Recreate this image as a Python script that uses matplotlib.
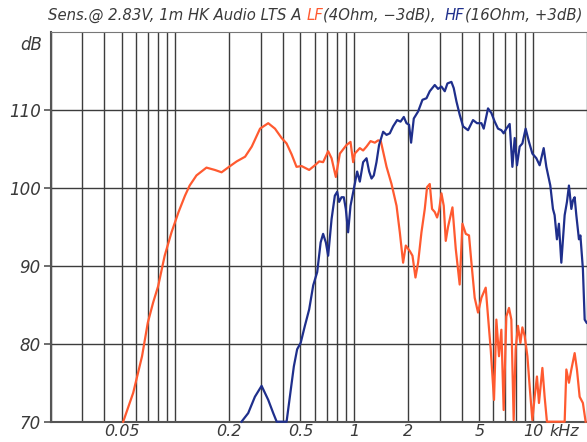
"""Sensitivity curves (LF / HF) of the HK Audio LTS A, redrawn with matplotlib."""

import matplotlib

matplotlib.use("Agg")
import matplotlib.pyplot as plt
from matplotlib.ticker import FixedLocator, LogLocator, NullFormatter

# LF way, frequency in Hz and level in dB
lf_freq_hz = [
    51, 58, 65, 70, 75, 80, 87, 95, 104, 113, 120, 131, 149, 166, 181, 202,
    220, 245, 267, 297, 330, 360, 392, 418, 446, 475, 507, 559, 602, 636, 669,
    714, 746, 788, 830, 904, 952, 985, 1006, 1073, 1120, 1170, 1232, 1302,
    1359, 1406, 1514, 1614, 1722, 1796, 1874, 1940, 2042, 2114, 2197, 2273,
    2373, 2477, 2551, 2641, 2720, 2817, 2902, 2977, 3070, 3162, 3245, 3342,
    3537, 3690, 3882, 4022, 4200, 4378, 4516, 4710, 4917, 5136, 5428, 5592,
    5788, 6040, 6226, 6440, 6640, 6840, 7080, 7325, 7550, 7780, 7980, 8220,
    8485, 8703, 8964, 9284, 9560, 9897, 10195, 10500, 10775, 11260, 11590,
    11940, 15000, 15330, 15850, 16350, 17060, 17570, 18190, 18970, 19650,
]
lf_db = [
    70.0, 73.7, 78.4, 82.7, 85.3, 87.4, 91.3, 94.3, 96.9, 99.0, 100.3, 101.6,
    102.6, 102.3, 102.0, 102.8, 103.4, 104.0, 105.3, 107.6, 108.3, 107.6,
    106.4, 105.7, 104.3, 102.7, 102.8, 102.3, 102.9, 103.4, 103.3, 104.7,
    103.8, 101.4, 104.4, 105.5, 105.9, 103.3, 104.4, 105.1, 104.8, 105.3,
    106.0, 105.8, 106.1, 106.0, 102.7, 100.5, 97.7, 94.3, 90.4, 92.6, 91.9,
    91.3, 88.5, 90.4, 94.3, 97.3, 100.1, 100.5, 97.3, 96.9, 96.2, 97.1, 99.3,
    97.7, 93.2, 95.0, 97.5, 92.2, 87.6, 95.4, 94.1, 93.9, 90.4, 85.9, 84.0,
    85.9, 87.2, 83.5, 79.3, 72.8, 83.1, 78.4, 81.8, 71.5, 83.5, 84.6, 83.1,
    70.2, 79.3, 82.3, 80.1, 82.1, 81.0, 78.4, 74.5, 70.2, 73.2, 75.8, 72.4,
    76.9, 73.2, 70.0, 70.0, 76.7, 75.0, 76.7, 78.8, 76.7, 73.2, 72.4, 70.0,
]

# HF way
hf_freq_hz = [
    234, 255, 278, 303, 330, 352, 368, 418, 436, 459, 479, 501, 529, 559, 589,
    620, 648, 669, 693, 714, 746, 778, 802, 822, 848, 873, 896, 923, 952, 994,
    1037, 1073, 1120, 1170, 1210, 1248, 1285, 1330, 1375, 1449, 1514, 1579,
    1648, 1735, 1813, 1891, 1957, 2023, 2077, 2150, 2273, 2404, 2532, 2641,
    2817, 2939, 3070, 3204, 3316, 3490, 3596, 3723, 3882, 4054, 4323, 4610,
    4853, 5136, 5291, 5592, 5841, 6095, 6360, 6640, 6840, 7080, 7390, 7653,
    7884, 8120, 8405, 8703, 9078, 9475, 9897, 10420, 10870, 11450, 11850,
    12470, 12900, 13180, 13580, 13930, 14370, 15000, 15450, 15850, 16350,
    16690, 17060, 17430, 18030, 18370, 18970, 19410, 19900,
]
hf_db = [
    70.0, 71.1, 73.2, 74.6, 72.8, 71.1, 70.0, 70.0, 73.2, 77.1, 79.3, 80.1,
    82.3, 84.4, 87.5, 89.2, 93.0, 94.1, 93.0, 91.3, 96.0, 99.0, 99.5, 98.2,
    98.8, 98.8, 97.3, 94.3, 97.7, 99.9, 102.1, 100.8, 103.3, 103.8, 102.1,
    101.2, 101.6, 103.3, 105.5, 107.2, 106.8, 107.0, 107.9, 108.7, 108.5,
    109.1, 108.3, 108.1, 105.8, 108.9, 109.8, 111.3, 111.5, 112.4, 113.2,
    112.7, 113.0, 112.4, 113.4, 113.6, 112.8, 111.1, 109.4, 107.9, 107.4,
    108.7, 108.3, 108.3, 107.6, 110.2, 109.6, 108.5, 107.6, 107.4, 107.0,
    107.6, 108.2, 102.7, 106.4, 102.9, 105.3, 105.7, 107.6, 105.9, 104.4,
    103.8, 102.9, 105.1, 102.7, 100.3, 97.3, 96.5, 93.4, 95.4, 90.4, 96.5,
    98.2, 100.3, 97.3, 98.4, 98.8, 96.5, 93.4, 93.9, 89.6, 83.1, 82.7,
]

x_tick_khz = [0.05, 0.2, 0.5, 1, 2, 5, 10]
x_tick_labels = ["0.05", "0.2", "0.5", "1", "2", "5", "10"]
y_ticks = [70, 80, 90, 100, 110]

LF_COLOR = "#ff5a30"
HF_COLOR = "#1f2f8c"
TEXT_COLOR = "#3a3a3a"
GRID_COLOR = "#3c3c3c"
FONT = dict(family="DejaVu Sans", style="italic", color=TEXT_COLOR)

fig = plt.figure(figsize=(5.87, 4.42), dpi=100)
ax = fig.add_axes([50.5 / 587, 20.3 / 442, 1 - 50.5 / 587, 389.7 / 442])

ax.plot([f / 1000 for f in lf_freq_hz], lf_db, color=LF_COLOR, lw=1.6,
        clip_on=False, zorder=3)
ax.plot([f / 1000 for f in hf_freq_hz], hf_db, color=HF_COLOR, lw=1.6,
        clip_on=False, zorder=3)

ax.set_xscale("log")
ax.set_xlim(0.02, 20)
ax.set_ylim(70, 120)

ax.xaxis.set_major_locator(FixedLocator(x_tick_khz))
ax.xaxis.set_minor_locator(LogLocator(base=10, subs=range(1, 10), numticks=20))
ax.xaxis.set_minor_formatter(NullFormatter())
ax.set_xticklabels(x_tick_labels, fontsize=11.5, **FONT)
ax.tick_params(axis="x", which="both", length=0, pad=1.5)

ax.set_yticks(y_ticks)
ax.set_yticklabels([str(v) for v in y_ticks], fontsize=12, **FONT)
ax.tick_params(axis="y", length=5, width=1.2, color="#555555", pad=2)

ax.grid(True, axis="x", which="both", color=GRID_COLOR, lw=1.0)
ax.grid(True, axis="y", which="major", color=GRID_COLOR, lw=1.0)
ax.set_axisbelow(True)

for side in ("left", "bottom"):
    ax.spines[side].set_color("#555555")
    ax.spines[side].set_linewidth(1.5)
ax.spines["top"].set_color("#777777")
ax.spines["top"].set_linewidth(0.8)
ax.spines["right"].set_visible(False)

ax.annotate("kHz", xy=(10, 0), xycoords=("data", "axes fraction"),
            xytext=(12, -1.5), textcoords="offset points", ha="left", va="top",
            fontsize=11.5, **FONT)
fig.text(42 / 587, 1 - 45 / 442, "dB", ha="right", va="center",
         fontsize=12, **FONT)

# title in coloured pieces, placed one after another
pieces = [
    ("Sens.@ 2.83V, 1m HK Audio LTS A ", TEXT_COLOR),
    ("LF", LF_COLOR),
    ("(4Ohm, \u22123dB),  ", TEXT_COLOR),
    ("HF", HF_COLOR),
    ("(16Ohm, +3dB)", TEXT_COLOR),
]
renderer = fig.canvas.get_renderer()
x_px = 48
for text, color in pieces:
    t = fig.text(x_px / 587, 1 - 20 / 442, text, ha="left", va="baseline",
                 fontsize=10.7, family="DejaVu Sans", style="italic",
                 color=color)
    x_px = t.get_window_extent(renderer).x1

fig.savefig("out.png", dpi=100)
